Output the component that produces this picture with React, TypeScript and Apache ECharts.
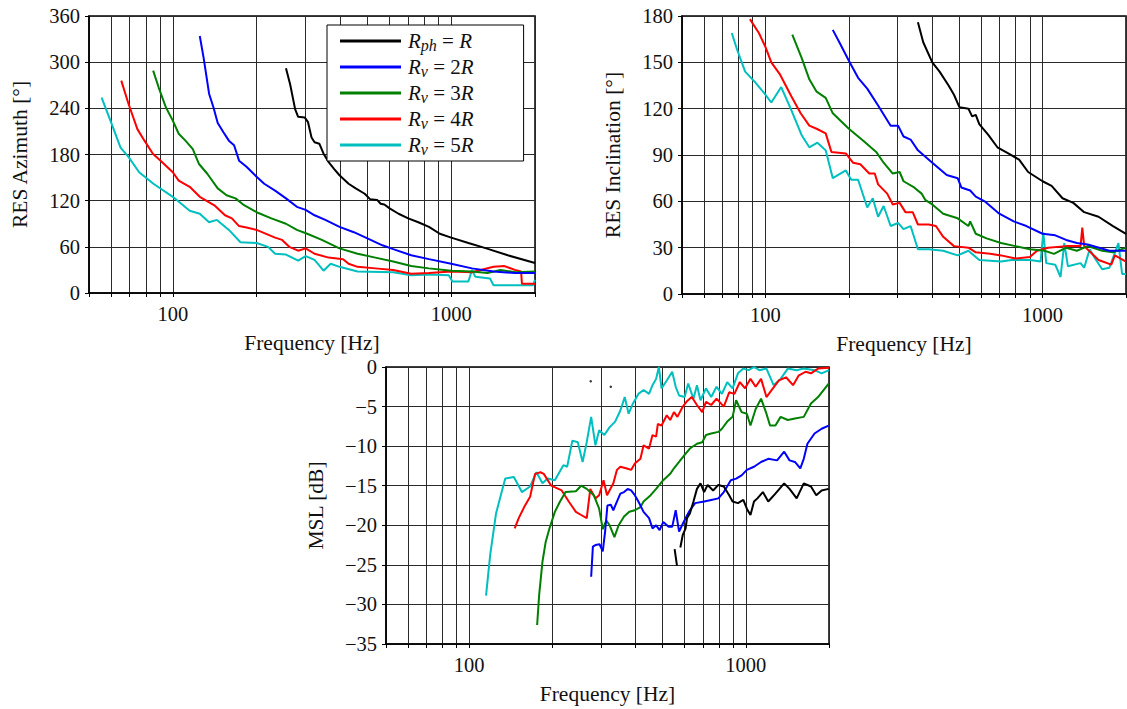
import React, { useEffect, useRef } from 'react';
import * as echarts from 'echarts';

// ---------- axes ----------
const FREQ_GRID = [50, 60, 70, 80, 90, 100, 200, 300, 400, 500, 600, 700, 800, 900, 1000, 2000];
const FREQ_LABELS = [100, 1000];

// ---------- series names / colours ----------
const NAMES = ['Rph = R', 'Rv = 2R', 'Rv = 3R', 'Rv = 4R', 'Rv = 5R'];
const COLORS = ['#000000', '#0000ff', '#008000', '#ff0000', '#00bfbf'];

// ---------- RES Azimuth [deg] ----------
const azBlack = [[255,292],[264,271],[275,239],[282,229],[298,228],[306,222],[315,202],[323,196],[336,194],[348,181],[363,170],[380,161],[397,153],[428,142],[454,136],[489,129],[511,122],[542,121],[558,116],[575,115],[601,110],[647,103],[701,97],[762,92],[832,86],[910,77],[1000,72],[1153,65],[1337,58],[1597,49],[2000,39]];
const azBlue = [[125,334],[129,306],[135,259],[140,241],[145,221],[152,209],[159,198],[166,192],[173,172],[184,164],[200,151],[213,142],[233,133],[255,123],[279,112],[300,108],[323,101],[353,95],[397,86],[447,79],[500,71],[566,62],[619,57],[718,49],[832,44],[1000,38],[1187,32],[1419,28],[1694,26],[2000,26]];
const azGreen = [[85,289],[89,267],[94.5,241],[100,224],[105,207],[111,198],[118,187],[124,168],[133,155],[145,136],[156,127],[168,123],[179,115],[200,105],[226,97],[255,90],[279,82],[304,77],[343,69],[397,58],[461,51],[534,46],[619,41],[718,35],[832,32],[1000,29],[1187,28],[1350,26],[1503,30],[1700,27],[2000,28]];
const azRed = [[65.3,276],[69.3,246],[74.6,213],[79.1,198],[84.8,181],[90.4,172],[100,157],[105,146],[115,138],[125,125],[141,114],[154,101],[163,97],[173,87],[184,85],[200,82],[233,72],[247,69],[262,60],[282,55],[300,58],[323,51],[363,46],[409,44],[428,38],[461,34],[534,32],[619,30],[718,25],[832,26],[1000,28],[1187,27],[1419,34],[1553,35],[1694,30],[1783,28],[1795,12],[2000,12]];
const azCyan = [[55.5,254],[59.7,224],[64.9,189],[69.3,177],[75.7,157],[85.2,142],[100,125],[115,107],[125,103],[135,92],[144,95],[159,82],[175,66],[200,65],[220,60],[233,51],[255,50],[282,42],[300,48],[323,43],[348,29],[369,38],[397,34],[461,28],[619,27],[718,23],[832,24],[980,23],[1010,15],[1153,15],[1187,30],[1222,21],[1378,19],[1419,10],[1963,10],[2000,17]];

// ---------- RES Inclination [deg] ----------
const inBlack = [[355,176],[371,163],[400,150],[425,144],[458,135],[479,129],[501,121],[540,120],[557,115],[574,116],[591,110],[637,103],[687,95],[752,91],[823,87],[887,79],[1000,73],[1078,70],[1180,62],[1291,59],[1413,53],[1592,50],[1795,44],[2000,39]];
const inBlue = [[175,171],[186,162],[200,151],[216,140],[233,133],[255,122],[283,109],[301,109],[315,102],[334,100],[355,93],[400,85],[451,77],[494,75],[509,69],[548,67],[574,63],[618,60],[698,52],[787,47],[874,44],[1000,39],[1111,38],[1216,35],[1330,33],[1455,32],[1742,28],[2000,28]];
const inGreen = [[125,168],[135,153],[144,139],[153,131],[165,127],[175,117],[200,107],[226,99],[251,92],[267,85],[288,78],[305,79],[315,73],[344,69],[366,65],[377,61],[400,58],[438,52],[494,49],[540,44],[548,47],[574,39],[628,36],[708,33],[798,31],[900,29],[1016,28],[1100,26],[1216,30],[1330,28],[1455,31],[1641,28],[1795,27],[2000,30]];
const inRed = [[87.9,178],[94.7,169],[100,160],[105,150],[113,142],[124,128],[134,117],[144,109],[153,107],[165,104],[173,92],[195,91],[207,85],[220,84],[237,78],[248,78],[255,71],[275,65],[288,58],[305,59],[320,53],[340,53],[355,45],[388,45],[412,44],[438,37],[479,31],[540,30],[574,27],[647,26],[708,25],[798,23],[900,24],[955,28],[1047,30],[1216,31],[1371,31],[1391,43],[1413,31],[1592,22],[1770,19],[1824,25],[2000,21]];
const inCyan = [[75.6,169],[79.1,158],[84.5,144],[91.9,137],[99,130],[105,124],[114,134],[124,119],[135,103],[144,95],[154,98],[165,93],[175,75],[195,80],[204,74],[216,74],[233,56],[244,62],[255,50],[267,57],[283,44],[301,46],[315,42],[334,44],[355,29],[388,29],[438,28],[494,25],[540,28],[591,22],[708,21],[774,22],[900,22],[984,21],[1006,40],[1031,20],[1111,19],[1161,11],[1198,33],[1234,18],[1371,20],[1413,17],[1479,29],[1546,23],[1641,16],[1742,17],[1878,33],[1936,13],[2000,13]];

// ---------- MSL [dB] ----------
const mslBlack = [[553,-23.0],[564,-25.1],[572,'-'],[580,-22.8],[592,-21.2],[606,-20.4],[613,-19.1],[628,-18.5],[647,-17.0],[666,-15.4],[686,-14.7],[707,-15.8],[728,-14.9],[762,-15.6],[796,-14.9],[833,-15.1],[871,-16.2],[896,-17.0],[937,-17.2],[980,-16.8],[1009,-17.9],[1040,-18.7],[1071,-17.0],[1102,-16.6],[1153,-15.8],[1206,-17.0],[1280,-16.0],[1377,-14.7],[1440,-15.4],[1528,-16.6],[1621,-14.7],[1721,-15.1],[1799,-16.2],[1881,-15.6],[1995,-15.4]];
const mslBlackDots = [[275,-1.8],[325,-2.5]];
const mslBlue = [[276,-26.5],[280,-22.7],[286,-22.5],[296,-22.4],[304,-23.3],[310,-20.8],[316,-17.5],[325,-17.4],[332,-18.1],[342,-17.0],[352,-16.0],[363,-15.8],[374,-15.4],[385,-15.6],[397,-16.2],[409,-17.0],[427,-18.3],[447,-19.1],[460,-20.4],[474,-20.0],[488,-20.6],[503,-19.6],[526,-20.2],[542,-20.2],[558,-18.1],[574,-20.8],[592,-19.8],[610,-18.9],[628,-18.1],[656,-17.2],[707,-17.0],[750,-16.8],[796,-16.6],[833,-15.8],[883,-14.3],[923,-14.1],[966,-13.7],[1009,-13.0],[1071,-12.6],[1136,-12.0],[1206,-11.6],[1298,-11.8],[1377,-10.7],[1440,-11.8],[1506,-12.0],[1575,-12.8],[1621,-11.6],[1671,-9.7],[1773,-8.4],[1881,-7.8],[1995,-7.4]];
const mslGreen = [[176,-32.6],[179,-28.8],[184,-24.6],[189,-22.1],[195,-20.4],[204,-18.3],[213,-17.0],[223,-15.8],[243,-15.7],[254,-15.0],[266,-15.4],[282,-16.2],[295,-17.9],[304,-20.5],[313,-19.4],[322,-20.0],[335,-21.5],[347,-20.0],[363,-18.9],[379,-18.3],[397,-18.1],[416,-17.7],[427,-17.0],[453,-16.2],[474,-15.4],[503,-14.3],[533,-13.5],[550,-12.8],[574,-12.0],[601,-11.1],[628,-10.3],[666,-9.7],[696,-9.5],[718,-8.6],[750,-8.4],[796,-8.2],[820,-7.8],[857,-6.9],[896,-6.3],[923,-4.2],[966,-5.7],[1009,-5.9],[1040,-7.4],[1086,-5.3],[1136,-4.0],[1188,-5.9],[1224,-7.4],[1280,-7.4],[1337,-6.3],[1419,-6.7],[1506,-6.5],[1621,-6.3],[1721,-4.6],[1826,-3.8],[1995,-2.1]];
const mslRed = [[146,-20.4],[151,-19.1],[158,-17.7],[166,-16.4],[173,-13.5],[181,-13.3],[186,-13.5],[198,-15.0],[216,-15.6],[229,-17.0],[243,-18.3],[254,-18.7],[266,-19.1],[274,-15.4],[286,-16.6],[295,-16.2],[306,-14.3],[315,-16.2],[332,-14.7],[342,-13.0],[352,-12.6],[369,-12.8],[385,-13.0],[397,-12.2],[416,-11.6],[427,-9.9],[447,-10.3],[460,-8.6],[474,-8.8],[481,-7.2],[496,-7.4],[518,-6.1],[533,-6.7],[550,-5.7],[566,-6.3],[592,-5.0],[610,-4.4],[638,-3.8],[666,-4.8],[696,-5.7],[718,-4.4],[750,-4.8],[784,-4.0],[833,-5.0],[871,-3.2],[910,-3.4],[952,-1.9],[994,-2.7],[1040,-1.5],[1086,-2.5],[1136,-1.5],[1188,-3.8],[1242,-2.9],[1318,-1.7],[1398,-1.3],[1483,-2.3],[1552,-1.1],[1645,-0.6],[1721,-0.8],[1826,-0.2],[2000,-0.1]];
const mslCyan = [[115,-28.9],[119,-23.8],[125,-18.5],[131,-15.8],[135,-14.1],[145,-13.9],[155,-15.8],[166,-15.1],[175,-13.3],[184,-14.7],[192,-14.1],[204,-14.3],[219,-12.4],[226,-12.6],[236,-9.3],[247,-9.5],[257,-12.0],[266,-9.5],[276,-6.3],[286,-9.9],[295,-8.0],[308,-8.6],[322,-7.6],[337,-6.9],[352,-5.5],[365,-3.8],[377,-5.9],[391,-4.6],[409,-3.4],[427,-2.9],[447,-3.4],[460,-2.3],[474,-1.5],[485,0],[496,-2.7],[518,-1.7],[542,-0.6],[558,-2.5],[574,-3.6],[601,-3.8],[619,-2.1],[647,-4.0],[666,-2.3],[686,-4.2],[718,-2.7],[750,-3.8],[784,-2.5],[820,-3.4],[857,-1.9],[896,-2.7],[937,-0.8],[980,-0.2],[1024,-0.4],[1071,0],[1120,-0.4],[1188,-0.2],[1261,-2.3],[1337,-1.5],[1419,-0.2],[1528,-0.4],[1621,-0.2],[1773,-0.4],[1881,-0.8],[2000,-0.4]];

const AZ = [azBlack, azBlue, azGreen, azRed, azCyan];
const INC = [inBlack, inBlue, inGreen, inRed, inCyan];
const MSL = [mslBlack, mslBlue, mslGreen, mslRed, mslCyan];

const FONT = 'Liberation Serif';
const TXT = '#111';
const GRIDC = '#2a2a2a';

const LEGEND_RICH: Record<string, string> = {
  'Rph = R': '{i|R}{s|ph}{n| = }{i|R}',
  'Rv = 2R': '{i|R}{s|v}{n| = 2}{i|R}',
  'Rv = 3R': '{i|R}{s|v}{n| = 3}{i|R}',
  'Rv = 4R': '{i|R}{s|v}{n| = 4}{i|R}',
  'Rv = 5R': '{i|R}{s|v}{n| = 5}{i|R}',
};

function xAxis(gridIndex: number) {
  return {
    type: 'log',
    logBase: 10,
    gridIndex,
    min: 50,
    max: 2000,
    name: 'Frequency [Hz]',
    nameLocation: 'middle',
    nameGap: 39,
    nameTextStyle: { fontFamily: FONT, fontSize: 21.5, color: TXT },
    axisLine: { show: true, onZero: false, lineStyle: { color: '#000', width: 1.5 } },
    axisTick: { show: true, inside: false, length: 4, customValues: FREQ_GRID, lineStyle: { color: '#000', width: 1 } },
    axisLabel: { show: true, customValues: FREQ_LABELS, margin: 10, fontFamily: FONT, fontSize: 20.5, color: TXT, formatter: (v: number) => String(Math.round(v)) },
    splitLine: { show: true, lineStyle: { color: GRIDC, width: 1 } },
    minorTick: { show: false },
    minorSplitLine: { show: false },
  };
}

function yAxis(gridIndex: number, min: number, max: number, interval: number, name: string, gap: number) {
  return {
    type: 'value',
    gridIndex,
    min,
    max,
    interval,
    name,
    nameLocation: 'middle',
    nameGap: gap,
    nameTextStyle: { fontFamily: FONT, fontSize: 21.5, color: TXT },
    axisLine: { show: true, onZero: false, lineStyle: { color: '#000', width: 1.5 } },
    axisTick: { show: true, inside: false, length: 4, lineStyle: { color: '#000', width: 1 } },
    axisLabel: {
      margin: 9, fontFamily: FONT, fontSize: 20.5, color: TXT,
      formatter: (v: number) => (v < 0 ? '\u2212' + Math.abs(v) : String(v)),
    },
    splitLine: { show: true, lineStyle: { color: GRIDC, width: 1 } },
  };
}

export default function App() {
  const ref = useRef<HTMLDivElement>(null);
  useEffect(() => {
    if (!ref.current) return;
    const chart = echarts.init(ref.current, undefined, { renderer: 'svg' });
    const series: any[] = [];
    const groups = [AZ, INC, MSL];
    groups.forEach((g, gi) => {
      g.forEach((data, si) => {
        series.push({
          type: 'line',
          name: NAMES[si],
          xAxisIndex: gi,
          yAxisIndex: gi,
          data,
          showSymbol: false,
          symbol: 'none',
          connectNulls: false,
          color: COLORS[si],
          lineStyle: { color: COLORS[si], width: 2 },
          z: 3 + (4 - si),
        });
      });
    });
    series.push({
      type: 'scatter',
      name: NAMES[0],
      xAxisIndex: 2,
      yAxisIndex: 2,
      data: mslBlackDots,
      symbolSize: 2.5,
      itemStyle: { color: '#000' },
    });
    const gridBase = { show: true, borderColor: '#000', borderWidth: 1.5, backgroundColor: 'transparent', containLabel: false, outerBoundsMode: 'none' };
    const option: any = {
      animation: false,
      backgroundColor: '#fff',
      textStyle: { fontFamily: FONT },
      grid: [
        { ...gridBase, left: 89, top: 16, width: 446, height: 277 },
        { ...gridBase, left: 682, top: 16, width: 444, height: 278 },
        { ...gridBase, left: 386, top: 367, width: 443, height: 277 },
      ],
      xAxis: [xAxis(0), xAxis(1), xAxis(2)],
      yAxis: [
        yAxis(0, 0, 360, 60, 'RES Azimuth [\u00b0]', 58),
        yAxis(1, 0, 180, 30, 'RES Inclination [\u00b0]', 58),
        yAxis(2, -35, 0, 5, 'MSL [dB]', 59),
      ],
      legend: {
        show: true,
        data: NAMES,
        orient: 'vertical',
        left: 327,
        top: 25,
        icon: 'rect',
        itemWidth: 61,
        itemHeight: 3,
        itemGap: 2,
        padding: [4, 50, 4, 13],
        backgroundColor: '#fff',
        borderColor: '#000',
        borderWidth: 1,
        borderRadius: 0,
        z: 10,
        selectedMode: false,
        formatter: (name: string) => LEGEND_RICH[name] || name,
        textStyle: {
          fontFamily: FONT,
          color: TXT,
          padding: [0, 0, 0, 2],
          rich: {
            i: { fontFamily: FONT, fontSize: 21, fontStyle: 'italic', lineHeight: 23, color: TXT },
            n: { fontFamily: FONT, fontSize: 21, lineHeight: 23, color: TXT },
            s: { fontFamily: FONT, fontSize: 16, fontStyle: 'italic', lineHeight: 15, padding: [8, 0, 0, 0], color: TXT },
          },
        },
      },
      series,
    };
    chart.setOption(option);
    return () => chart.dispose();
  }, []);
  return <div ref={ref} style={{ position: 'absolute', left: 0, top: 0, width: 1127, height: 709 }} />;
}
